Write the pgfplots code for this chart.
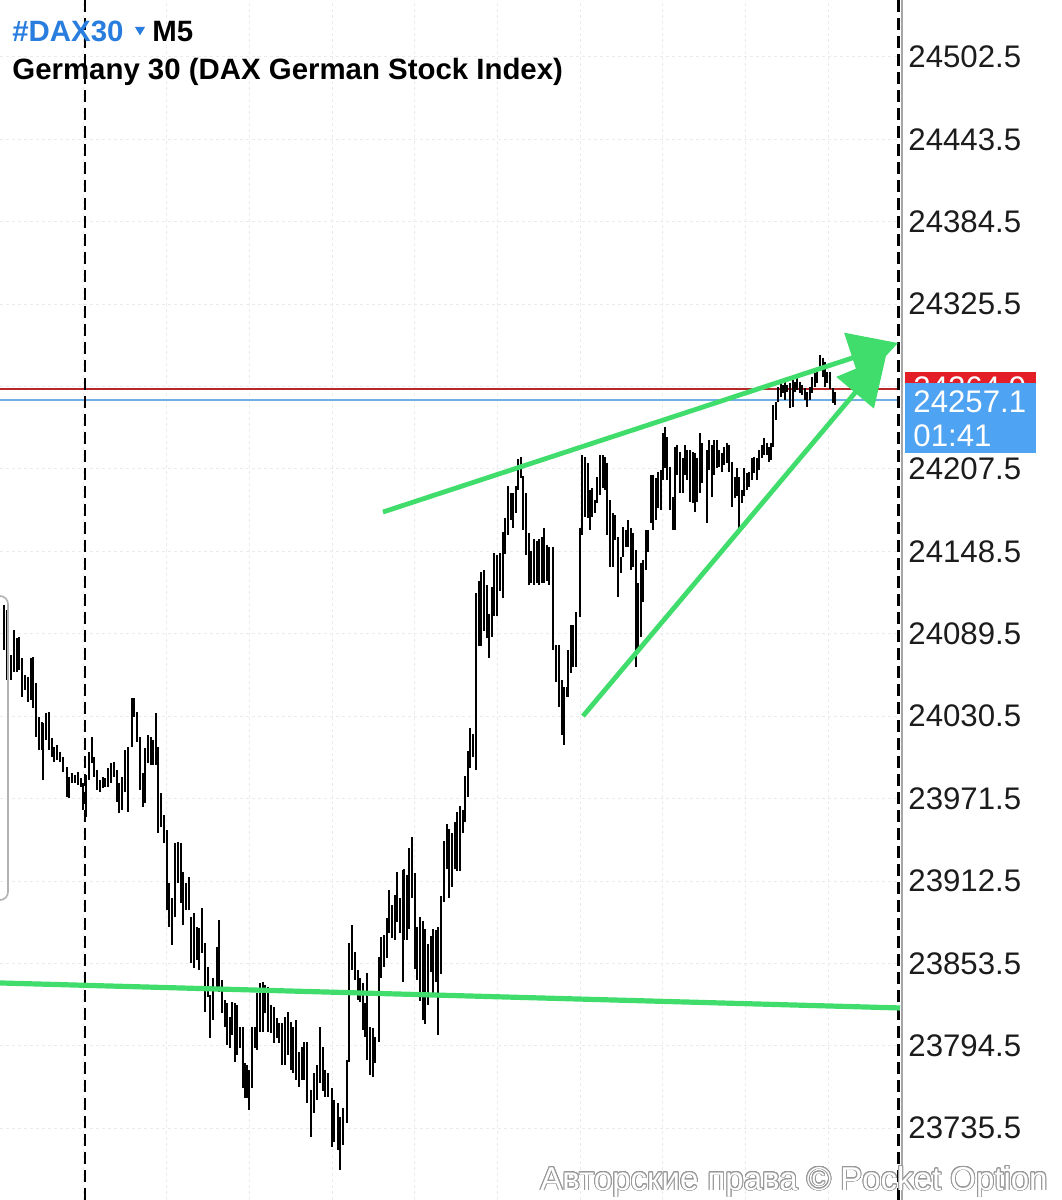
\documentclass[border=0pt]{standalone}
\usepackage{pgfplots}
\pgfplotsset{compat=1.18}
\usepackage{pgfplotstable}
\usepackage{fontspec}
\setmainfont{Liberation Sans}
\usetikzlibrary{arrows.meta}
\usepackage{contour}
\contourlength{0.45pt}
\contournumber{24}

\definecolor{gr}{RGB}{64,221,108}
\definecolor{dblue}{RGB}{40,125,222}
\definecolor{boxblue}{RGB}{78,163,242}
\definecolor{boxred}{RGB}{228,30,38}
\definecolor{redline}{RGB}{185,40,40}
\definecolor{blueline}{RGB}{110,175,230}
\definecolor{tick}{RGB}{28,28,28}

\pgfplotstableread{
x hi lo
4 24110.1 24077.9
7.3 24106.5 24056.4
11 24074.3 24056.4
14 24092.2 24062.0
16.7 24086.5 24062.0
19.3 24087.2 24063.6
22.3 24072.2 24044.3
25 24060.0 24049.3
27.7 24058.6 24040.7
30.7 24072.2 24042.1
33.3 24072.9 24036.4
36 24054.3 24015.6
39 24029.9 24006.3
41.7 24026.3 24006.3
43.3 24025.6 23984.8
46 24032.8 24013.5
49 24033.5 24006.3
51.7 24014.9 24001.3
54.3 24008.4 23997.8
57.3 24009.9 23999.1
60 24004.9 23997.7
63.3 24001.3 23990.6
66.7 23994.1 23972.6
69.3 23986.9 23971.9
72.3 23989.8 23982.7
75 23988.4 23982.7
77.7 23990.6 23981.2
80.7 23986.2 23979.8
83.3 23982.7 23963.3
86 23988.4 23958.3
88.7 24004.9 23984.8
91.7 24015.6 23997.0
94.3 24001.3 23987.0
97.3 23992.0 23977.7
100 23984.8 23976.2
102.7 23987.0 23979.1
105.3 23986.2 23979.8
108.3 23993.4 23979.8
111 23997.0 23982.7
114 23997.7 23987.0
116.7 23992.0 23969.1
119.3 23982.7 23961.2
122.3 23987.0 23963.3
125 24006.3 23976.2
127.7 24008.4 23961.9
131.7 24043.6 24008.4
134.3 24043.6 24030.0
137.3 24033.5 24012.0
140 24015.6 23977.7
142.7 23989.8 23965.5
145.3 24007.7 23968.3
148.3 24017.0 23997.0
151 24015.6 23995.6
153.3 24013.5 23995.6
155.7 24032.8 23995.6
158 24008.4 23946.9
161 23975.5 23951.2
163.7 23959.8 23939.7
166.7 23949.0 23891.7
169.3 23911.1 23879.6
172.3 23900.3 23866.7
175.3 23939.7 23886.7
178 23940.4 23911.1
180.7 23939.7 23896.8
183.3 23918.9 23881.0
186 23911.1 23891.7
188.7 23915.4 23891.7
191.3 23886.7 23853.8
194.3 23889.6 23850.2
196.7 23879.6 23856.0
199.3 23878.9 23848.8
202.3 23893.2 23861.0
205 23868.2 23818.7
207.7 23851.0 23829.4
210.3 23830.9 23800.1
213.3 23843.1 23813.0
216.7 23865.3 23835.9
219.3 23884.6 23833.0
222 23841.6 23818.0
224.7 23827.3 23807.9
227.3 23825.1 23795.1
230 23815.1 23792.9
232.3 23825.8 23802.2
234.7 23825.1 23782.9
237.3 23823.6 23787.9
240 23808.0 23792.9
242.7 23808.0 23764.3
245.3 23782.2 23757.1
247.3 23780.8 23757.1
249.3 23777.2 23748.5
252 23808.0 23764.3
254.7 23808.0 23792.9
257.3 23832.3 23791.5
260 23839.5 23804.4
262.7 23840.2 23804.4
265.3 23838.0 23818.0
268.3 23836.6 23804.4
271 23823.6 23803.7
274 23822.3 23796.5
276.7 23814.4 23800.1
279.3 23810.8 23796.5
282.3 23810.8 23780.8
285 23815.1 23780.8
287.7 23818.7 23787.9
290.7 23811.6 23777.2
293.3 23808.0 23775.0
296 23813.0 23770.0
299 23790.1 23765.0
301.7 23793.7 23770.0
304.3 23797.2 23770.0
307.3 23797.2 23753.6
310.7 23762.9 23729.2
314.3 23775.0 23746.4
317 23780.8 23755.7
320 23808.0 23767.9
322.7 23793.7 23762.2
325.3 23777.2 23757.9
328.3 23775.0 23757.9
331.7 23764.3 23722.0
334.3 23755.7 23725.6
337.7 23753.6 23720.0
340.3 23743.5 23705.6
343.3 23750.0 23723.5
346.7 23784.3 23739.2
349.3 23868.1 23782.9
352.3 23881.0 23848.8
355 23861.7 23841.6
357.7 23848.8 23827.3
360 23843.1 23825.8
362.7 23839.5 23805.8
365 23825.1 23800.8
367.3 23846.6 23784.3
370 23808.0 23773.6
372.7 23807.2 23772.2
375.3 23800.8 23782.2
378.7 23858.1 23797.2
381.3 23872.4 23843.1
384 23873.8 23851.0
386.7 23886.0 23857.4
389.3 23906.1 23875.3
392 23895.3 23871.7
394.7 23902.5 23870.3
397.3 23918.9 23883.2
400 23900.3 23875.3
402.7 23920.4 23840.2
404 23921.1 23870.3
406.7 23916.8 23870.3
409.3 23936.0 23878.1
412 23944.0 23900.3
414.7 23918.2 23849.5
417.3 23879.6 23841.6
420 23886.7 23826.6
422.7 23883.9 23813.0
425.3 23878.1 23810.1
428 23867.4 23823.6
430.7 23873.1 23847.3
433.3 23878.1 23832.3
436 23877.4 23840.2
438.3 23879.6 23802.2
441 23901.8 23845.9
443.7 23941.1 23897.5
446.7 23953.3 23921.1
449.3 23949.7 23900.3
452 23946.9 23908.2
454.7 23954.7 23921.1
457.3 23961.9 23919.7
460 23966.2 23919.7
462.7 23963.3 23946.9
465 23987.7 23954.7
467.7 24005.6 23972.6
470.3 24022.1 23993.4
473 24017.8 24001.3
476 24118.7 23992.0
478.7 24127.3 24080.8
481.3 24133.7 24080.8
484 24135.2 24091.5
486.7 24124.4 24086.5
488.7 24103.7 24072.2
491.7 24123.0 24087.2
494.3 24147.3 24102.2
497 24145.9 24102.2
500 24147.3 24120.1
502.7 24162.4 24115.1
505.3 24172.4 24146.6
508 24195.3 24160.2
510.7 24190.3 24171.0
513.3 24190.3 24165.3
516 24195.3 24176.0
518.3 24214.6 24192.5
520.7 24216.1 24201.1
523.3 24202.5 24163.8
526 24190.3 24145.9
528.7 24161.7 24124.4
531.3 24149.0 24125.9
534 24157.4 24124.4
536.7 24155.9 24125.9
539.3 24157.4 24124.4
542 24158.8 24125.9
544 24165.3 24125.9
546.7 24153.1 24127.3
549.3 24151.6 24124.4
552.7 24151.6 24077.9
556 24081.5 24055.0
559 24081.5 24037.1
561.7 24056.4 24017.0
564.3 24051.4 24009.9
566.7 24051.4 24044.3
568.3 24077.9 24044.3
571 24095.8 24061.4
573.3 24095.8 24065.7
576 24105.1 24065.7
580 24165.3 24101.5
582.3 24217.3 24160.2
585 24216.1 24173.1
587.7 24211.6 24172.4
590 24192.5 24163.8
592.3 24193.9 24173.1
595 24185.3 24176.0
597.3 24201.8 24183.2
600 24217.5 24188.9
602.7 24217.5 24193.9
605 24216.1 24192.5
607.3 24211.8 24160.2
610 24185.3 24137.3
612.7 24176.0 24137.3
615 24174.6 24156.7
618.3 24158.8 24115.8
620.7 24144.5 24133.0
623.3 24166.0 24144.5
626 24163.8 24151.6
628.3 24171.0 24151.6
630.7 24165.3 24135.2
633.3 24161.7 24137.3
635.7 24149.5 24065.7
638.3 24125.9 24077.9
640.7 24140.2 24087.2
643.3 24142.3 24112.3
645.7 24163.8 24135.2
648.3 24163.8 24148.1
650.7 24203.2 24168.8
653.3 24203.2 24163.8
655.7 24201.0 24171.0
658.3 24205.3 24179.4
660.7 24206.8 24178.1
662.7 24233.3 24199.6
665 24237.6 24208.2
667.3 24230.4 24199.6
670 24209.0 24178.1
672.7 24187.5 24163.8
675 24223.2 24163.8
677.3 24224.7 24203.2
680 24219.7 24190.3
682.7 24215.4 24190.3
685 24224.7 24203.2
687.3 24221.1 24199.6
690 24221.1 24183.9
692.7 24219.7 24183.2
695 24218.9 24176.7
697.3 24215.4 24183.9
700 24233.3 24190.3
702.3 24226.1 24197.5
706.7 24221.1 24168.8
709 24228.3 24206.8
711.7 24224.7 24187.5
714.3 24228.3 24203.2
716.7 24228.3 24208.2
719 24221.1 24208.9
721.7 24219.0 24205.4
724 24223.2 24210.4
726.7 24226.1 24211.8
729.3 24224.7 24205.4
732.3 24212.5 24180.3
735 24201.8 24186.8
737.3 24208.2 24188.3
739.3 24201.8 24163.8
741.7 24192.5 24183.2
744 24208.2 24188.3
746.7 24204.6 24192.5
749 24205.4 24194.6
751.7 24215.4 24199.6
754 24216.1 24204.6
756.7 24215.4 24199.6
759.3 24221.1 24206.8
761.7 24224.7 24215.4
764 24229.7 24217.5
766.7 24226.1 24217.5
769 24223.2 24212.5
771 24226.1 24214.0
773.3 24253.3 24223.2
776 24255.5 24242.6
778.3 24266.2 24255.5
780.7 24271.2 24259.0
782.7 24267.6 24261.9
785 24269.8 24256.9
787.3 24267.6 24262.6
790 24269.1 24251.2
792.7 24273.4 24251.9
795 24269.8 24262.6
797.3 24272.7 24264.1
800 24269.8 24261.9
802.3 24267.6 24260.5
805 24265.5 24256.9
807.3 24262.6 24251.9
810 24266.2 24256.9
812.3 24273.4 24261.9
815 24276.2 24266.2
817.3 24279.8 24269.1
820 24289.1 24279.8
822.7 24287.0 24273.4
825 24284.1 24266.2
827.3 24277.0 24269.1
830 24277.0 24264.9
832.7 24265.5 24254.8
835 24262.6 24253.3
}\bars

\begin{document}
\begin{tikzpicture}[x=1pt,y=1pt]
\useasboundingbox (0,0) rectangle (530.5,600);
\fill[white] (0,0) rectangle (530.5,600);
\begin{axis}[
  at={(0,0)}, anchor=south west,
  width=450pt, height=600pt, scale only axis,
  xmin=0, xmax=900, ymin=23684.1, ymax=24543.3,
  separate axis lines,
  axis line style={draw=none},
  major tick length=0pt,
  xtick=\empty,
  ytick={23735.5,23794.5,23853.5,23912.5,23971.5,24030.5,24089.5,24148.5,24207.5,24266.5,24325.5,24384.5,24443.5,24502.5},
  yticklabels={23735.5,23794.5,23853.5,23912.5,23971.5,24030.5,24089.5,24148.5,24207.5,24266.5,24325.5,24384.5,24443.5,24502.5},
  yticklabel pos=right,
  yticklabel style={anchor=west, inner sep=0pt, xshift=4pt, font=\fontsize{15.6}{18}\selectfont, text=tick},
  ymajorgrids,
  grid style={black!8, line width=0.5pt, dash pattern=on 1.5pt off 1.5pt},
]
\pgfplotsinvokeforeach{83,166,249,332,414,497,580,662,745,828}{
  \addplot[black!8, line width=0.5pt, dash pattern=on 1.5pt off 1.5pt, mark=none] coordinates {(#1,23684.1) (#1,24543.3)};
}
\addplot[redline, line width=0.8pt, mark=none] coordinates {(0,24264.9) (900,24264.9)};
\addplot[blueline, line width=0.8pt, mark=none] coordinates {(0,24257.1) (900,24257.1)};
\addplot[black, line width=1pt, dash pattern=on 6pt off 3pt, mark=none] coordinates {(85,23684.1) (85,24543.3)};
\addplot[black, line width=1.1pt, dash pattern=on 6pt off 3pt, mark=none] coordinates {(898.5,23684.1) (898.5,24543.3)};
\addplot[black, line width=1.15pt, mark=none, quiver={u=0, v=\thisrow{lo}-\thisrow{hi}}] table[x=x, y=hi] \bars;
\addplot[gr, line width=2.6pt, mark=none] coordinates {(0,23839.5) (900,23821.6)};
\addplot[gr, line width=2.4pt, mark=none, -{Triangle[length=24pt, width=26pt]}] coordinates {(383,24176.7) (898,24297.7)};
\addplot[gr, line width=2.4pt, mark=none, -{Triangle[length=24pt, width=24pt]}] coordinates {(583,24030.6) (886,24288.4)};
\end{axis}
% right edge line of plot area
\draw[black!35, line width=0.6pt] (451,0) -- (451,600);
% left drawer edge
\draw[black!30, line width=0.8pt, rounded corners=4pt] (0,302) -- (4,302) -- (4,150) -- (0,150);
% title
\node[anchor=base west, inner sep=0pt, font=\fontsize{14.7}{17}\selectfont\bfseries, text=dblue] at (6,579) {\#DAX30};
\fill[dblue] (67.5,586.5) -- (72.5,586.5) -- (70,582.3) -- cycle;
\node[anchor=base west, inner sep=0pt, font=\fontsize{14.7}{17}\selectfont\bfseries, text=black] at (76,579) {M5};
\node[anchor=base west, inner sep=0pt, font=\fontsize{14.7}{17}\selectfont\bfseries, text=black] at (6,560) {Germany 30 (DAX German Stock Index)};
% price tags
\fill[boxred] (452.5,398) rectangle (518,414);
\node[anchor=west, inner sep=0pt, font=\fontsize{15.6}{18}\selectfont, text=white] at (456.5,406) {24264.9};
\fill[boxblue] (452.5,373.5) rectangle (518,408.5);
\node[anchor=west, inner sep=0pt, font=\fontsize{15.6}{18}\selectfont, text=white] at (456.5,399.3) {24257.1};
\node[anchor=west, inner sep=0pt, font=\fontsize{15.6}{18}\selectfont, text=white] at (456.5,382) {01:41};
% watermark
\node[anchor=base west, inner sep=0pt, font=\fontsize{16.5}{19}\selectfont] at (270,5) {\contour{black!40}{\textcolor{white}{Авторские права © Pocket Option}}};
\end{tikzpicture}
\end{document}
